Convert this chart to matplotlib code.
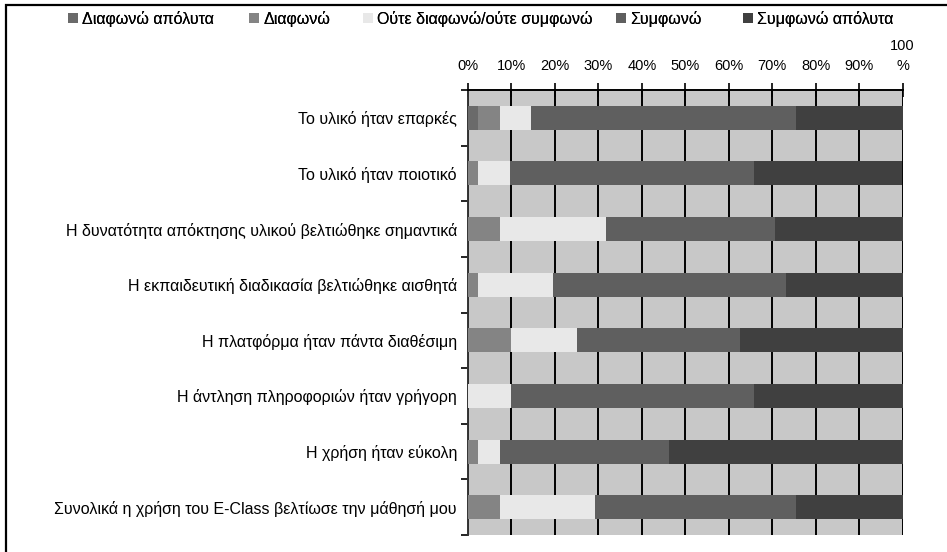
import matplotlib
matplotlib.use("Agg")
import matplotlib.pyplot as plt
from matplotlib.patches import Rectangle
import numpy as np

plt.rcParams['font.family'] = ['Liberation Sans', 'DejaVu Sans']

# Survey statements (top to bottom)
statements = [
    "Το υλικό ήταν επαρκές",
    "Το υλικό ήταν ποιοτικό",
    "Η δυνατότητα απόκτησης υλικού βελτιώθηκε σημαντικά",
    "Η εκπαιδευτική διαδικασία βελτιώθηκε αισθητά",
    "Η πλατφόρμα ήταν πάντα διαθέσιμη",
    "Η άντληση πληροφοριών ήταν γρήγορη",
    "Η χρήση ήταν εύκολη",
    "Συνολικά η χρήση του E-Class βελτίωσε την μάθησή μου",
]

responses = ["Διαφωνώ απόλυτα", "Διαφωνώ", "Ούτε διαφωνώ/ούτε συμφωνώ",
             "Συμφωνώ", "Συμφωνώ απόλυτα"]

# Percentage of answers per response level, in statement order
strongly_disagree = [2.4, 0.0, 0.0, 0.0, 0.0, 0.0, 0.0, 0.0]
disagree          = [4.9, 2.4, 7.3, 2.4, 10.0, 0.0, 2.4, 7.3]
neutral           = [7.3, 7.3, 24.4, 17.1, 15.0, 9.8, 4.9, 22.0]
agree             = [61.0, 56.1, 39.0, 53.7, 37.5, 56.1, 39.0, 46.3]
strongly_agree    = [24.4, 34.1, 29.3, 26.8, 37.5, 34.1, 53.7, 24.4]

tick_values = [0, 10, 20, 30, 40, 50, 60, 70, 80, 90, 100]
tick_labels = ["0%", "10%", "20%", "30%", "40%", "50%", "60%", "70%", "80%", "90%", "100\n%"]

colors = ["#6a6a6a", "#848484", "#e8e8e8", "#5f5f5f", "#404040"]

W, H = 947, 552
fig = plt.figure(figsize=(W / 100, H / 100), dpi=100)

# clipped outer frame (top and left edges visible)
fig.patches.append(Rectangle((6 / W, -0.1), 1.2, 1.1 - 4.5 / H,
                             transform=fig.transFigure, fill=False,
                             edgecolor="black", linewidth=1.6))

ax = fig.add_axes([468 / W, 1 - 535 / H, (902.5 - 468) / W, (535 - 90) / H])
ax.set_facecolor("#c8c8c8")

series = [strongly_disagree, disagree, neutral, agree, strongly_agree]
n = len(statements)
y = np.arange(n)
left = np.zeros(n)
handles = []
for vals, col, name in zip(series, colors, responses):
    vals = np.array(vals)
    b = ax.barh(y, vals, left=left, height=0.43, color=col, label=name,
                zorder=3, linewidth=0)
    handles.append(b)
    left = left + vals

ax.set_xlim(0, 100)
ax.set_ylim(n - 0.5, -0.5)

# vertical gridlines behind the bars
ax.set_axisbelow(True)
ax.xaxis.grid(True, color="black", linewidth=1.4)
ax.yaxis.grid(False)

ax.xaxis.tick_top()
ax.set_xticks(tick_values)
ax.set_xticklabels(tick_labels, fontsize=10.5, linespacing=1.6)
ax.tick_params(axis="x", direction="inout", length=10, width=1.2, pad=7)

ax.set_yticks(y)
ax.set_yticklabels(statements, fontsize=11.5)
ax.tick_params(axis="y", which="major", length=0, pad=8)
ax.set_yticks(np.arange(n + 1) - 0.5, minor=True)
ax.tick_params(axis="y", which="minor", length=5, width=1.2, direction="out")

for side in ["bottom", "right"]:
    ax.spines[side].set_visible(False)
ax.spines["top"].set_linewidth(1.4)
ax.spines["left"].set_linewidth(1.4)
ax.spines["left"].set_color("#333333")

# legend entries placed individually along the top
legend_x = [68, 249, 363, 616, 743]
for h, name, lx in zip(handles, responses, legend_x):
    lg = fig.legend(handles=[h], labels=[name], loc="center left",
                    bbox_to_anchor=(lx / W, 1 - 19 / H), frameon=False,
                    fontsize=11.5, handlelength=0.6, handleheight=0.6,
                    handletextpad=0.3, borderaxespad=0, borderpad=0)
    fig.add_artist(lg)

fig.savefig("out.png", dpi=100)
